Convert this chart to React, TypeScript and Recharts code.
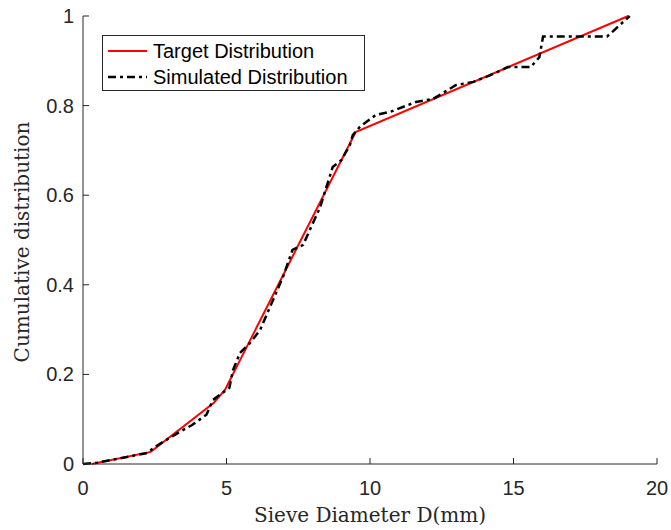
import { LineChart, Line, XAxis, YAxis, Legend } from "recharts";

// sieve diameter ticks (mm) and cumulative ticks
const sieveTicks = [0, 5, 10, 15, 20];
const cdfTicks = [0, 0.2, 0.4, 0.6, 0.8, 1];

// target gradation curve
const targetD = [0.3, 2.36, 4.55, 4.95, 9.5, 19];
const targetCdf = [0, 0.027, 0.136, 0.166, 0.741, 1];

// simulated gradation curve
const simD = [
  0, 0.5, 2.2, 2.6, 3.3, 3.8, 4.3, 4.53, 5.1, 5.23, 5.47, 5.82, 6.17, 6.5,
  6.97, 7.3, 7.67, 7.9, 8.26, 8.7, 9.0, 9.3, 9.4, 9.65, 10.2, 10.7, 11.6,
  12.2, 13.0, 13.6, 14.2, 14.8, 15.6, 15.9, 16.03, 18.26, 19.05,
];
const simCdf = [
  0, 0.003, 0.024, 0.042, 0.069, 0.087, 0.11, 0.143, 0.17, 0.21, 0.248, 0.27,
  0.299, 0.348, 0.418, 0.478, 0.489, 0.522, 0.573, 0.663, 0.678, 0.712, 0.734,
  0.753, 0.779, 0.786, 0.808, 0.815, 0.846, 0.853, 0.868, 0.886, 0.886, 0.908,
  0.954, 0.954, 1.0,
];

const targetData = targetD.map((x, i) => ({ x, y: targetCdf[i] }));
const simData = simD.map((x, i) => ({ x, y: simCdf[i] }));

const AXIS = "#262626";
const SANS = "'Liberation Sans', Arial, sans-serif";
const SERIF = "'DejaVu Serif', 'Liberation Serif', serif";
const SIM_DASH = "8 4 3 4";

function BottomTick({ x, y, payload }: any) {
  return (
    <g>
      <line x1={x} x2={x} y1={y} y2={y - 6} stroke={AXIS} />
      <text x={x} y={y + 31} textAnchor="middle" fontSize={20} fill={AXIS} fontFamily={SANS}>
        {payload.value}
      </text>
    </g>
  );
}

function LeftTick({ x, y, payload }: any) {
  return (
    <g>
      <line x1={x} x2={x + 6} y1={y} y2={y} stroke={AXIS} />
      <text x={x - 9} y={y + 7} textAnchor="end" fontSize={20} fill={AXIS} fontFamily={SANS}>
        {payload.value}
      </text>
    </g>
  );
}

function TopTick({ x, y }: any) {
  return <line x1={x} x2={x} y1={y} y2={y + 6} stroke={AXIS} />;
}

function RightTick({ x, y }: any) {
  return <line x1={x} x2={x - 6} y1={y} y2={y} stroke={AXIS} />;
}

function LegendBox() {
  const row = (label: string, color: string, width: number, dash?: string) => (
    <div style={{ display: "flex", alignItems: "center", height: 26 }}>
      <svg width={46} height={10} style={{ marginLeft: 4 }}>
        <line x1={1} x2={40} y1={5} y2={5} stroke={color} strokeWidth={width} strokeDasharray={dash} />
      </svg>
      <span style={{ fontFamily: SANS, fontSize: 20, color: "#000", whiteSpace: "nowrap" }}>{label}</span>
    </div>
  );
  return (
    <div
      style={{
        border: `1px solid ${AXIS}`,
        background: "#fff",
        width: 263,
        height: 56,
        boxSizing: "border-box",
        paddingTop: 2,
      }}
    >
      {row("Target Distribution", "#ff0000", 2)}
      {row("Simulated Distribution", "#000", 2.5, SIM_DASH)}
    </div>
  );
}

export default function App() {
  return (
    <div style={{ position: "absolute", left: 0, top: 0, background: "#fff" }}>
      <LineChart width={671} height={530} margin={{ top: 16, right: 14, left: 0, bottom: 0 }}>
        <XAxis
          dataKey="x"
          type="number"
          domain={[0, 20]}
          ticks={sieveTicks}
          height={66}
          axisLine={{ stroke: AXIS }}
          tickLine={false}
          tickSize={0}
          tickMargin={0}
          tick={<BottomTick />}
          label={{
            content: ({ viewBox }: any) => (
              <text
                x={viewBox.x + viewBox.width / 2}
                y={viewBox.y + viewBox.height - 8}
                textAnchor="middle"
                fontSize={20}
                fill={AXIS}
                fontFamily={SERIF}
              >
                Sieve Diameter D(mm)
              </text>
            ),
          }}
        />
        <XAxis
          xAxisId="top"
          orientation="top"
          dataKey="x"
          type="number"
          domain={[0, 20]}
          ticks={sieveTicks}
          height={0}
          axisLine={{ stroke: AXIS }}
          tickLine={false}
          tickSize={0}
          tickMargin={0}
          tick={<TopTick />}
        />
        <YAxis
          type="number"
          domain={[0, 1]}
          ticks={cdfTicks}
          width={83}
          axisLine={{ stroke: AXIS }}
          tickLine={false}
          tickSize={0}
          tickMargin={0}
          tick={<LeftTick />}
          label={{
            content: ({ viewBox }: any) => {
              const cx = 22;
              const cy = viewBox.y + viewBox.height / 2 + 2;
              return (
                <text
                  x={cx}
                  y={cy}
                  transform={`rotate(-90 ${cx} ${cy})`}
                  textAnchor="middle"
                  dominantBaseline="central"
                  fontSize={20}
                  fill={AXIS}
                  fontFamily={SERIF}
                >
                  Cumulative distribution
                </text>
              );
            },
          }}
        />
        <YAxis
          yAxisId="right"
          orientation="right"
          type="number"
          domain={[0, 1]}
          ticks={cdfTicks}
          width={0}
          axisLine={{ stroke: AXIS }}
          tickLine={false}
          tickSize={0}
          tickMargin={0}
          tick={<RightTick />}
        />
        <Legend
          layout="horizontal"
          verticalAlign="middle"
          align="center"
          wrapperStyle={{ left: 102, top: 35, width: 263, height: 56 }}
          content={<LegendBox />}
        />
        <Line
          data={targetData}
          dataKey="y"
          type="linear"
          stroke="#ff0000"
          strokeWidth={2}
          dot={false}
          isAnimationActive={false}
        />
        <Line
          data={simData}
          dataKey="y"
          type="linear"
          stroke="#000"
          strokeWidth={2.5}
          strokeDasharray={SIM_DASH}
          dot={false}
          isAnimationActive={false}
        />
      </LineChart>
    </div>
  );
}
